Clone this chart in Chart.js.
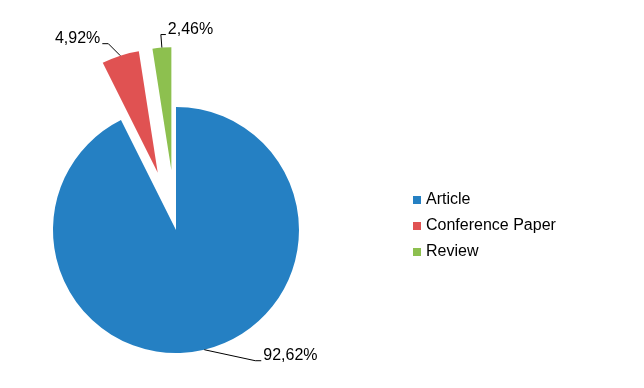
<!DOCTYPE html>
<html>
<head>
<meta charset="utf-8">
<script src="https://cdn.jsdelivr.net/npm/chart.js@4/dist/chart.umd.min.js"></script>
<style>
  html, body { margin: 0; padding: 0; background: #fff; }
  #wrap { position: relative; width: 644px; height: 388px; }
</style>
</head>
<body>
<div id="wrap"><canvas id="chart"></canvas></div>
<script>
// --- data ---
const categories = ['Article', 'Conference Paper', 'Review'];
const shares = [92.62, 4.92, 2.46];
const sliceColors = ['#2580C3', '#E05252', '#8DC04F'];
// how far each slice is pulled out from the centre (px)
const explode = [0, 60, 60];
// leader line: [dx, dy] from the arc edge to the elbow, then horizontal run
const leaders = [[51, 11, 6], [-12, -12, -6], [-1, -13, 5]];

const FONT = '16px "Liberation Sans", Arial, sans-serif';
const fmt = v => v.toFixed(2).replace('.', ',') + '%';

// move exploded slices outward along their bisector
const explodePlugin = {
  id: 'explode',
  afterDatasetUpdate(chart, args) {
    const meta = chart.getDatasetMeta(args.index);
    meta.data.forEach((arc, i) => {
      const d = explode[i] || 0;
      if (!d) return;
      const mid = (arc.startAngle + arc.endAngle) / 2;
      arc.x += Math.cos(mid) * d;
      arc.y += Math.sin(mid) * d;
    });
  }
};

// percentage labels with leader lines
const labelPlugin = {
  id: 'sliceLabels',
  afterDatasetsDraw(chart) {
    const ctx = chart.ctx;
    const meta = chart.getDatasetMeta(0);
    ctx.save();
    ctx.font = FONT;
    ctx.fillStyle = '#000';
    ctx.strokeStyle = '#000';
    ctx.lineWidth = 1;
    ctx.textBaseline = 'middle';
    meta.data.forEach((arc, i) => {
      const mid = (arc.startAngle + arc.endAngle) / 2;
      const px = arc.x + Math.cos(mid) * arc.outerRadius;
      const py = arc.y + Math.sin(mid) * arc.outerRadius;
      const [dx, dy, h] = leaders[i];
      const ex = px + dx, ey = py + dy;
      ctx.beginPath();
      ctx.moveTo(px, py);
      ctx.lineTo(ex, ey);
      ctx.lineTo(ex + h, ey);
      ctx.stroke();
      ctx.textAlign = h > 0 ? 'left' : 'right';
      ctx.fillText(fmt(shares[i]), ex + h + (h > 0 ? 2 : -2), ey - 5);
    });
    ctx.restore();
  }
};

// legend on the right
const legendPlugin = {
  id: 'sideLegend',
  afterDraw(chart) {
    const ctx = chart.ctx;
    const x0 = 413, y0 = 200, gap = 26, box = 8;
    ctx.save();
    ctx.font = FONT;
    ctx.textAlign = 'left';
    ctx.textBaseline = 'middle';
    categories.forEach((c, i) => {
      const y = y0 + i * gap;
      ctx.fillStyle = sliceColors[i];
      ctx.fillRect(x0, y - box / 2, box, box);
      ctx.fillStyle = '#000';
      ctx.fillText(c, x0 + 13, y);
    });
    ctx.restore();
  }
};

new Chart(document.getElementById('chart'), {
  type: 'pie',
  data: {
    labels: categories,
    datasets: [{
      data: shares,
      backgroundColor: sliceColors,
      borderWidth: 0,
      radius: 123
    }]
  },
  options: {
    responsive: true,
    maintainAspectRatio: false,
    animation: false,
    events: [],
    layout: { padding: { left: 0, right: 292, top: 72, bottom: 0 } },
    plugins: {
      legend: { display: false },
      tooltip: { enabled: false }
    }
  },
  plugins: [explodePlugin, labelPlugin, legendPlugin]
});
</script>
</body>
</html>
